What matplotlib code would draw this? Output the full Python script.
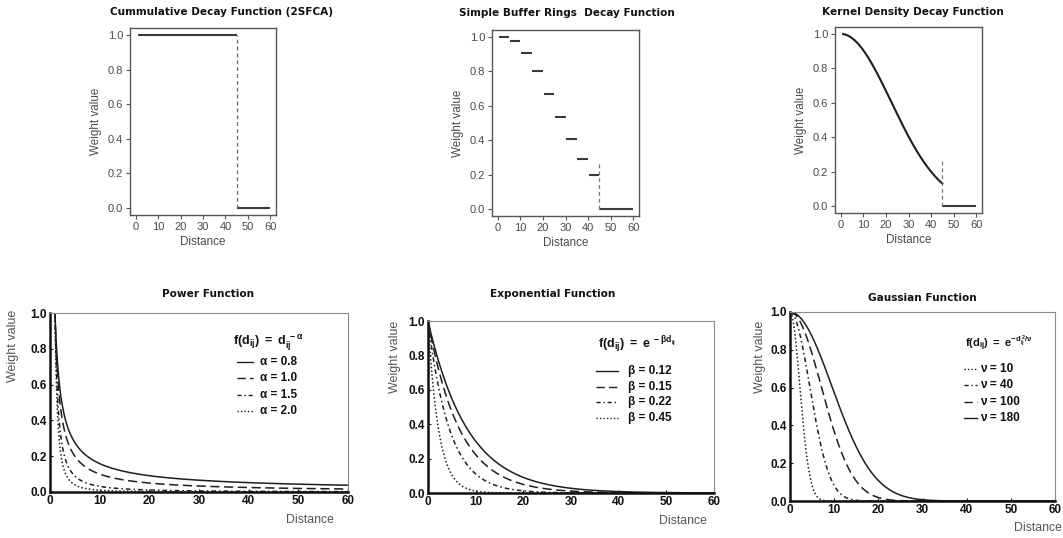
import numpy as np
import matplotlib
matplotlib.use("Agg")
import matplotlib.pyplot as plt

# ---- data -----------------------------------------------------------------
DIST_TICKS = [0, 10, 20, 30, 40, 50, 60]
WEIGHT_TICKS_TOP = [0.0, 0.2, 0.4, 0.6, 0.8, 1.0]
WEIGHT_TICKS_BOTTOM = [0.0, 0.2, 0.4, 0.6, 0.8, 1.0]

CATCHMENT = 45            # threshold distance used by the top-row functions
MAX_DIST = 60

# simple buffer rings: ring edges and the weight assigned to each ring
RING_EDGES = [0, 5, 10, 15, 20, 25, 30, 35, 40, 45]
RING_WEIGHTS = [1.0, 0.975, 0.905, 0.80, 0.67, 0.535, 0.405, 0.29, 0.20]

KERNEL_BANDWIDTH = 22.3   # Gaussian kernel bandwidth

POWER_ALPHAS = [0.8, 1.0, 1.5, 2.0]
EXP_BETAS = [0.12, 0.15, 0.22, 0.45]
GAUSS_NUS = [10, 40, 100, 180]

# ---- styling --------------------------------------------------------------
W, H = 1063, 538
plt.rcParams["font.family"] = ["Liberation Sans", "DejaVu Sans"]
plt.rcParams["mathtext.fontset"] = "custom"
plt.rcParams["mathtext.rm"] = "Liberation Sans:bold"
plt.rcParams["mathtext.it"] = "Liberation Sans:bold"
plt.rcParams["mathtext.bf"] = "Liberation Sans:bold"
plt.rcParams["mathtext.sf"] = "Liberation Sans:bold"

TITLE_FONT = dict(family="DejaVu Sans", weight="bold", size=7.6, color="#111111")
GREY = "#4a4a4a"
LINE = "#3a3a3a"
CURVE = "#1e1e1e"

fig = plt.figure(figsize=(W / 100, H / 100), dpi=100)
fig.patch.set_facecolor("white")


def px_axes(left, top, right, bottom):
    return fig.add_axes([left / W, 1 - bottom / H, (right - left) / W, (bottom - top) / H])


def fig_text(x, y, s, **kw):
    fig.text(x / W, 1 - y / H, s, **kw)


def style_top(ax):
    ax.set_xlim(-2.6, 62.6)
    ax.set_ylim(-0.04, 1.04)
    ax.set_xticks(DIST_TICKS)
    ax.set_yticks(WEIGHT_TICKS_TOP)
    ax.set_yticklabels([f"{v:.1f}" for v in WEIGHT_TICKS_TOP])
    for sp in ax.spines.values():
        sp.set_color("#555555")
        sp.set_linewidth(1.0)
    ax.tick_params(direction="out", length=3, width=0.8, color="#555555",
                   labelsize=8, labelcolor=GREY, pad=2)
    ax.set_xlabel("Distance", fontsize=8.4, color=GREY, labelpad=3)
    ax.set_ylabel("Weight value", fontsize=8.4, color=GREY, labelpad=4)


def style_bottom(ax):
    ax.set_xlim(0, MAX_DIST)
    ax.set_ylim(0, 1)
    ax.set_xticks(DIST_TICKS)
    ax.set_yticks(WEIGHT_TICKS_BOTTOM)
    ax.set_yticklabels([f"{v:.1f}" for v in WEIGHT_TICKS_BOTTOM])
    for side in ("left", "bottom"):
        ax.spines[side].set_color("#111111")
        ax.spines[side].set_linewidth(1.8)
    for side in ("top", "right"):
        ax.spines[side].set_color("#8a8a8a")
        ax.spines[side].set_linewidth(0.8)
    ax.tick_params(direction="in", length=2, width=0.8, color="#111111",
                   labelsize=8.5, pad=2)
    for lab in ax.get_xticklabels() + ax.get_yticklabels():
        lab.set_fontweight("bold")
        lab.set_color("#111111")


# ---- top row ----------------------------------------------------------------
# Cumulative (2SFCA)
ax1 = px_axes(130, 28, 276, 215)
ax1.plot([1, CATCHMENT], [1, 1], color=LINE, lw=1.5, solid_capstyle="butt")
ax1.plot([CATCHMENT, MAX_DIST], [0, 0], color=LINE, lw=1.5, solid_capstyle="butt")
ax1.plot([CATCHMENT, CATCHMENT], [0, 1], color="#666666", lw=0.9, ls=(0, (3, 2.5)))
style_top(ax1)
fig_text(221, 12, "Cummulative Decay Function (2SFCA)", ha="center", va="center", **TITLE_FONT)

# Simple buffer rings
ax2 = px_axes(492, 30, 639, 216)
for lo, hi, w in zip(RING_EDGES[:-1], RING_EDGES[1:], RING_WEIGHTS):
    ax2.plot([lo + 0.3, hi], [w, w], color=LINE, lw=1.5, solid_capstyle="butt")
ax2.plot([CATCHMENT, MAX_DIST], [0, 0], color=LINE, lw=1.5, solid_capstyle="butt")
ax2.plot([CATCHMENT, CATCHMENT], [0, 0.28], color="#777777", lw=0.9, ls=(0, (3, 2.5)))
style_top(ax2)
fig_text(567, 13, "Simple Buffer Rings  Decay Function", ha="center", va="center", **TITLE_FONT)

# Kernel density
ax3 = px_axes(835, 27, 982, 213)
d_k = np.linspace(1, CATCHMENT, 200)
ax3.plot(d_k, np.exp(-0.5 * (d_k / KERNEL_BANDWIDTH) ** 2), color=CURVE, lw=1.5)
ax3.plot([CATCHMENT, MAX_DIST], [0, 0], color=LINE, lw=1.5, solid_capstyle="butt")
ax3.plot([CATCHMENT, CATCHMENT], [0, 0.28], color="#777777", lw=0.9, ls=(0, (3, 2.5)))
style_top(ax3)
fig_text(913, 12, "Kernel Density Decay Function", ha="center", va="center", **TITLE_FONT)

# ---- bottom row ---------------------------------------------------------------
STYLES4 = ["-", (0, (6, 3)), (0, (3, 2, 1, 2)), (0, (1, 1.5))]

# Power
ax4 = px_axes(50, 313, 348, 492)
d_p = np.linspace(1, MAX_DIST, 600)
for a, ls in zip(POWER_ALPHAS, STYLES4):
    ax4.plot(d_p, d_p ** (-a), color=CURVE, lw=1.1, ls=ls)
style_bottom(ax4)
fig_text(208, 294, "Power Function", ha="center", va="center", **TITLE_FONT)
fig_text(13, 346, "Weight value", rotation=90, ha="center", va="center", fontsize=9, color="#555555")
fig_text(310, 520, "Distance", ha="center", va="center", fontsize=8.8, color="#555555")
fig_text(233, 343, r"$\mathrm{f(d_{ij})\ =\ d_{ij}^{\ -\alpha}}$", ha="left", va="center",
         fontsize=9, color="#111111")
for i, (a, ls) in enumerate(zip(POWER_ALPHAS, STYLES4)):
    y = 362 + i * 16.3
    ax4.plot([237 / W, 253 / W], [1 - y / H, 1 - y / H], transform=fig.transFigure,
             color=CURVE, lw=1.0, ls=ls, clip_on=False)
    fig_text(260, y, f"α = {a:.1f}", ha="left", va="center", fontsize=8.5,
             fontweight="bold", color="#111111")

# Exponential
ax5 = px_axes(428, 321, 714, 493)
d_e = np.linspace(0, MAX_DIST, 600)
for b, ls in zip(EXP_BETAS, STYLES4):
    ax5.plot(d_e, np.exp(-b * d_e), color=CURVE, lw=1.1, ls=ls)
style_bottom(ax5)
fig_text(553, 294, "Exponential Function", ha="center", va="center", **TITLE_FONT)
fig_text(395, 357, "Weight value", rotation=90, ha="center", va="center", fontsize=9, color="#555555")
fig_text(683, 521, "Distance", ha="center", va="center", fontsize=8.8, color="#555555")
fig_text(598, 345, r"$\mathrm{f(d_{ij})\ =\ e^{\ -\beta d_{ij}}}$", ha="left", va="center",
         fontsize=9, color="#111111")
for i, (b, ls) in enumerate(zip(EXP_BETAS, STYLES4)):
    y = 371 + i * 15.7
    ax5.plot([596 / W, 618 / W], [1 - y / H, 1 - y / H], transform=fig.transFigure,
             color=CURVE, lw=1.0, ls=ls, clip_on=False)
    fig_text(628, y, f"β = {b:.2f}", ha="left", va="center", fontsize=8.5,
             fontweight="bold", color="#111111")

# Gaussian
STYLES_G = [(0, (1, 1.5)), (0, (3, 2, 1, 2)), (0, (6, 3)), "-"]
ax6 = px_axes(790, 312, 1055, 501)
d_g = np.linspace(0, MAX_DIST, 600)
for v, ls in zip(GAUSS_NUS, STYLES_G):
    ax6.plot(d_g, np.exp(-d_g ** 2 / v), color=CURVE, lw=1.1, ls=ls)
style_bottom(ax6)
fig_text(922, 298, "Gaussian Function", ha="center", va="center", **TITLE_FONT)
fig_text(760, 357, "Weight value", rotation=90, ha="center", va="center", fontsize=9, color="#555555")
fig_text(1038, 528, "Distance", ha="center", va="center", fontsize=8.8, color="#555555")
fig_text(965, 343, r"$\mathrm{f(d_{ij})\ =\ e^{-d_{ij}^{\,2}/\nu}}$", ha="left", va="center",
         fontsize=8, color="#111111")
for i, (v, ls) in enumerate(zip(GAUSS_NUS, STYLES_G)):
    y = 369 + i * 16.3
    ax6.plot([964 / W, 977 / W], [1 - y / H, 1 - y / H], transform=fig.transFigure,
             color=CURVE, lw=1.0, ls=ls, clip_on=False)
    fig_text(980, y, f"ν = {v}", ha="left", va="center", fontsize=8.5,
             fontweight="bold", color="#111111")

fig.savefig("out.png", dpi=100, facecolor="white")
